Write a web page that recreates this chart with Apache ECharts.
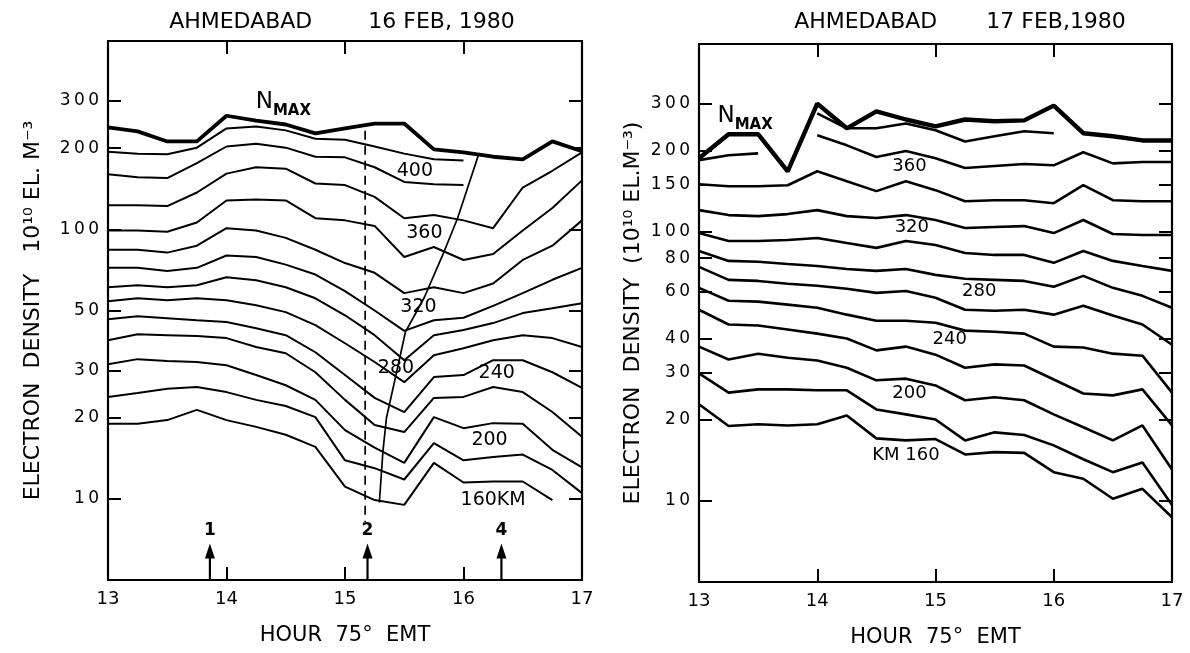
<!DOCTYPE html>
<html>
<head>
<meta charset="utf-8">
<title>Ahmedabad electron density, 16 and 17 Feb 1980</title>
<script src="https://cdn.jsdelivr.net/npm/echarts@6/dist/echarts.min.js"></script>
<style>
  html, body { margin: 0; padding: 0; background: #fff; }
  #chart { width: 1190px; height: 653px; }
</style>
</head>
<body>
<div id="chart"></div>
<script>
// values, one point every quarter hour

const hours = [13, 13.25, 13.5, 13.75, 14, 14.25, 14.5, 14.75, 15, 15.25, 15.5, 15.75, 16, 16.25, 16.5, 16.75, 17]
const xTicks = [13, 14, 15, 16, 17]
const yTicks16 = [10, 20, 30, 50, 100, 200, 300]
const yTicks17 = [10, 20, 30, 40, 60, 80, 100, 150, 200, 300]

// 16 FEB 1980 (left panel), 10^10 el/m3
const feb16Nmax = [239, 231, 212, 212, 264, 253, 245, 227, 237, 247, 247, 198, 193, 186, 182, 212, 195]
const feb16Km400 = [194, 191, 190, 201, 237, 241, 233, 217, 215, 203, 191, 182, 180, null, null, null, null]
const feb16Km380 = [160, 156, 155, 176, 203, 208, 201, 186, 185, 170, 150, 147, 146, null, null, null, null]
const feb16Km360 = [123, 123, 122, 137, 161, 170, 168, 148, 146, 132, 110, 113, 108, 101, 143, 165, 193]
const feb16Km340 = [99, 99, 98, 106, 128, 129, 128, 110, 108, 103, 79, 86, 77, 81, 99, 120, 152]
const feb16Km320 = [84, 84, 82, 87, 101, 99, 93, 84, 75, 69, 58, 61, 58, 63, 77, 87, 108]
const feb16Km300 = [72, 72, 70, 72, 80, 79, 74, 68, 59, 50, 42, 46, 47, 52, 58, 65, 72]
const feb16Km280 = [61, 62, 61, 62, 66.4, 64.7, 61, 55.5, 48, 40.5, 32.7, 40.5, 42.3, 44.9, 48.9, 51, 53.2]
const feb16Km260 = [54.1, 55.5, 54.6, 55.5, 54.6, 52.3, 49.3, 44.1, 37.8, 32.2, 27.1, 34.1, 36.2, 38.8, 40.5, 39.5, 36.6]
const feb16Km240 = [46.4, 47.6, 46.8, 46, 45.3, 43, 40.5, 35, 28.8, 23.7, 21, 28.3, 28.8, 32.7, 32.7, 29.5, 25.8]
const feb16Km220 = [38.8, 40.8, 40.5, 40.2, 39.5, 36.6, 34.7, 29.5, 23.3, 18.8, 17.7, 23.7, 23.9, 26, 24.9, 21, 17]
const feb16Km200 = [31.6, 33, 32.5, 32.2, 31.3, 28.8, 26.4, 23.3, 18, 15.5, 13.6, 20.1, 18.3, 19.1, 19, 15.2, 13.1]
const feb16Km180 = [23.9, 24.7, 25.6, 26, 24.9, 23.3, 22.1, 20.1, 13.9, 13, 11.8, 16.1, 13.9, 14.3, 14.6, 12.8, 10.5]
const feb16Km160 = [19, 19, 19.6, 21.4, 19.6, 18.5, 17.3, 15.6, 11.1, 9.9, 9.5, 13.6, 11.5, 11.6, 11.6, 9.9, null]
// thin line drawn through the troughs
const feb16Trough = [[15.29, 9.7], [15.32, 15], [15.35, 20], [15.42, 27.5], [15.51, 41.6], [15.67, 56], [15.83, 81.5], [15.95, 110], [16.13, 191]]
const feb16Dashed = [[15.17, 232], [15.17, 8.2]]
const feb16Arrows = [[13.86, '1'], [15.19, '2'], [16.32, '4']]
const feb16Labels = [['400', 15.59, 165], ['360', 15.67, 96.6], ['320', 15.62, 51.4], ['280', 15.43, 30.6],
  ['240', 16.28, 29.3], ['200', 16.22, 16.5], ['160KM', 16.25, 9.9]]
const feb16NmaxAt = [14.48, 290]

// 17 FEB 1980 (right panel)
const feb17Nmax = [188, 231, 231, 168, 300, 243, 281, 262, 247, 262, 258, 260, 295, 233, 227, 219, 219]
const feb17Km380 = [null, null, null, null, 276, 243, 243, 253, 239, 217, 227, 237, 233, null, null, null, null]
const feb17Km360 = [185, 193, 196, null, 229, 210, 190, 200, 188, 173, 176, 179, 177, 198, 180, 182, 182]
const feb17Km340 = [150.6, 148, 148, 149.3, 168.3, 154.5, 141.9, 154.5, 143.1, 130.2, 131.3, 131.3, 128, 149.3, 131.3, 130.2, 130.2]
const feb17Km320 = [120.6, 115.6, 114.6, 116.6, 120.6, 114.6, 112.7, 115.6, 110.8, 103.5, 104.4, 105.2, 99.1, 110.8, 98.3, 97.5, 97.5]
const feb17Km300 = [99.1, 92.6, 92.6, 93.4, 95, 91, 87.3, 92.6, 89.5, 83.6, 82.2, 82.2, 76.8, 85, 78.1, 74.8, 71.7]
const feb17Km280 = [85, 78.1, 77.5, 76.1, 74.8, 72.9, 71.7, 72.9, 69.3, 67, 66.4, 65.8, 62.6, 68.7, 62, 57.9, 52.3]
const feb17Km260 = [74.2, 66.4, 65.8, 64.2, 63.1, 61.5, 59.4, 60.4, 57, 51.4, 51, 51.4, 49.3, 53.2, 48.9, 45.3, 38.1]
const feb17Km240 = [62, 55.5, 55.1, 53.7, 52.3, 49.3, 46.8, 46.8, 46, 43, 42.6, 41.9, 37.5, 37.2, 35.3, 34.7, 25.3]
const feb17Km220 = [51.4, 45.3, 44.9, 43.4, 41.9, 40.2, 36.3, 37.5, 35, 31.3, 32.2, 31.9, 28.3, 25.1, 24.7, 26, 19.1]
const feb17Km200 = [37.5, 33.6, 35.3, 34.1, 33.3, 31.3, 28.1, 28.5, 26.9, 23.7, 24.3, 23.7, 21, 18.8, 16.8, 19.1, 13.1]
const feb17Km180 = [29.8, 25.3, 26, 26, 25.8, 25.8, 21.9, 21, 20.1, 16.8, 18, 17.6, 16.1, 14.3, 12.8, 13.9, 9.67]
const feb17Km160 = [22.9, 19, 19.3, 19.1, 19.3, 20.8, 17.1, 16.8, 17, 14.9, 15.2, 15.1, 12.8, 12.1, 10.2, 11.1, 8.7]
const feb17Labels = [['360', 14.78, 175], ['320', 14.8, 104], ['280', 15.37, 60], ['240', 15.12, 39.8],
  ['200', 14.78, 25.1], ['KM 160', 14.75, 14.8]]
const feb17NmaxAt = [13.39, 264]

const FONT = 'DejaVu Sans'
const INK = '#000'

// 把每个数值的数字拉开一点, 原图的刻度字是手写体
function spaced(v) {
  return String(v).split('').join('\u2009')
}

function curve(values, axis, width) {
  return {
    type: 'line',
    xAxisIndex: axis,
    yAxisIndex: axis,
    symbol: 'none',
    silent: true,
    lineStyle: { color: INK, width: width },
    data: hours.map((h, i) => [h, values[i] == null ? '-' : values[i]])
  }
}

function pathLine(points, axis, width, type) {
  return {
    type: 'line',
    xAxisIndex: axis,
    yAxisIndex: axis,
    symbol: 'none',
    silent: true,
    lineStyle: { color: INK, width: width, type: type || 'solid' },
    data: points
  }
}

// scatter 默认 opacity 0.8, 文字会发灰, 这里全部改成 1
function textMarks(items, axis, size) {
  return {
    type: 'scatter',
    xAxisIndex: axis,
    yAxisIndex: axis,
    symbolSize: 0,
    silent: true,
    itemStyle: { color: INK, opacity: 1 },
    label: {
      show: true,
      position: 'inside',
      formatter: '{b}',
      color: INK,
      opacity: 1,
      textBorderWidth: 0,
      fontFamily: FONT,
      fontSize: size
    },
    data: items.map(t => ({ name: t[0], value: [t[1], t[2]] }))
  }
}

function nmaxMark(at, axis) {
  return {
    type: 'scatter',
    xAxisIndex: axis,
    yAxisIndex: axis,
    symbolSize: 0,
    silent: true,
    itemStyle: { color: INK, opacity: 1 },
    label: {
      show: true,
      position: 'inside',
      formatter: '{n|N}{s|MAX}',
      opacity: 1,
      textBorderWidth: 0,
      rich: {
        n: { fontFamily: FONT, fontSize: 23, color: INK, lineHeight: 28, verticalAlign: 'top' },
        s: { fontFamily: FONT, fontSize: 15, fontWeight: 'bold', color: INK, lineHeight: 28, verticalAlign: 'bottom', padding: [11, 0, 0, 0] }
      }
    },
    data: [{ name: 'NMAX', value: at }]
  }
}

function arrow(h, text, axis) {
  return {
    type: 'line',
    xAxisIndex: axis,
    yAxisIndex: axis,
    silent: true,
    lineStyle: { color: INK, width: 2.2 },
    itemStyle: { color: INK },
    data: [
      { value: [h, 5], symbol: 'none' },
      {
        value: [h, 6.4],
        symbol: 'triangle',
        symbolSize: [10, 15],
        label: { show: true, position: 'top', distance: 5, formatter: text, color: INK, textBorderWidth: 0, fontFamily: FONT, fontSize: 17, fontWeight: 'bold' }
      }
    ]
  }
}

function xAxes(grid) {
  return [{
    type: 'value',
    gridIndex: grid,
    position: 'bottom',
    min: xTicks[0],
    max: xTicks[xTicks.length - 1],
    interval: 1,
    name: 'HOUR  75\u00b0  EMT',
    nameLocation: 'middle',
    nameGap: 45,
    nameTextStyle: { fontFamily: FONT, fontSize: 21, color: INK },
    axisLine: { lineStyle: { color: INK, width: 2.2 } },
    axisTick: { inside: true, length: 13, lineStyle: { color: INK, width: 2 } },
    axisLabel: { fontFamily: FONT, fontSize: 18, color: INK, margin: 10 },
    splitLine: { show: false }
  }, {
    type: 'value',
    gridIndex: grid,
    position: 'top',
    min: xTicks[0],
    max: xTicks[xTicks.length - 1],
    interval: 1,
    axisLine: { lineStyle: { color: INK, width: 2.2 } },
    axisTick: { inside: true, length: 13, lineStyle: { color: INK, width: 2 } },
    axisLabel: { show: false },
    splitLine: { show: false }
  }]
}

function yAxes(grid, ticks, name, gap) {
  return [{
    type: 'log',
    logBase: 10,
    gridIndex: grid,
    position: 'left',
    min: 5,
    max: 500,
    name: name,
    nameLocation: 'middle',
    nameRotate: 90,
    nameGap: gap,
    nameTextStyle: { fontFamily: FONT, fontSize: 22, color: INK },
    axisLine: { lineStyle: { color: INK, width: 2.2 } },
    axisTick: { inside: true, length: 13, customValues: ticks, lineStyle: { color: INK, width: 2 } },
    axisLabel: { fontFamily: FONT, fontSize: 17, color: INK, margin: 9, customValues: ticks, formatter: spaced },
    splitLine: { show: false },
    minorTick: { show: false }
  }, {
    type: 'log',
    logBase: 10,
    gridIndex: grid,
    position: 'right',
    min: 5,
    max: 500,
    axisLine: { lineStyle: { color: INK, width: 2.2 } },
    axisTick: { inside: true, length: 13, customValues: ticks, lineStyle: { color: INK, width: 2 } },
    axisLabel: { show: false },
    splitLine: { show: false }
  }]
}

const feb16Curves = [feb16Km400, feb16Km380, feb16Km360, feb16Km340, feb16Km320, feb16Km300, feb16Km280,
  feb16Km260, feb16Km240, feb16Km220, feb16Km200, feb16Km180, feb16Km160]
const feb17Curves = [feb17Km380, feb17Km360, feb17Km340, feb17Km320, feb17Km300, feb17Km280, feb17Km260,
  feb17Km240, feb17Km220, feb17Km200, feb17Km180, feb17Km160]

// left panel uses axes 0 (x bottom) / 0 (y left); right panel uses 2 / 2
const series = []
feb16Curves.forEach(c => series.push(curve(c, 0, 2)))
series.push(curve(feb16Nmax, 0, 3.8))
series.push(pathLine(feb16Trough, 0, 1.7))
series.push(pathLine(feb16Dashed, 0, 1.7, [9, 6]))
feb16Arrows.forEach(a => series.push(arrow(a[0], a[1], 0)))
series.push(textMarks(feb16Labels, 0, 19))
series.push(nmaxMark(feb16NmaxAt, 0))

feb17Curves.forEach(c => series.push(curve(c, 2, 2.6)))
series.push(curve(feb17Nmax, 2, 4.4))
series.push(textMarks(feb17Labels, 2, 18))
series.push(nmaxMark(feb17NmaxAt, 2))

const chart = echarts.init(document.getElementById('chart'), null, { renderer: 'canvas' })
chart.setOption({
  animation: false,
  backgroundColor: '#fff',
  title: [{
    text: 'AHMEDABAD        16 FEB, 1980',
    left: 337,
    top: 6,
    textAlign: 'center',
    textStyle: { fontFamily: FONT, fontSize: 22, fontWeight: 'normal', color: INK }
  }, {
    text: 'AHMEDABAD       17 FEB,1980',
    left: 955,
    top: 6,
    textAlign: 'center',
    textStyle: { fontFamily: FONT, fontSize: 22, fontWeight: 'normal', color: INK }
  }],
  grid: [
    { left: 108, right: 608, top: 41, bottom: 73 },
    { left: 699, right: 18, top: 44, bottom: 69 }
  ],
  xAxis: xAxes(0).concat(xAxes(1)),
  yAxis: yAxes(0, yTicks16, 'ELECTRON  DENSITY   10\u00b9\u2070 EL. M\u207b\u00b3', 64)
    .concat(yAxes(1, yTicks17, 'ELECTRON  DENSITY  (10\u00b9\u2070 EL.M\u207b\u00b3)', 55)),
  series: series
})
</script>
</body>
</html>
